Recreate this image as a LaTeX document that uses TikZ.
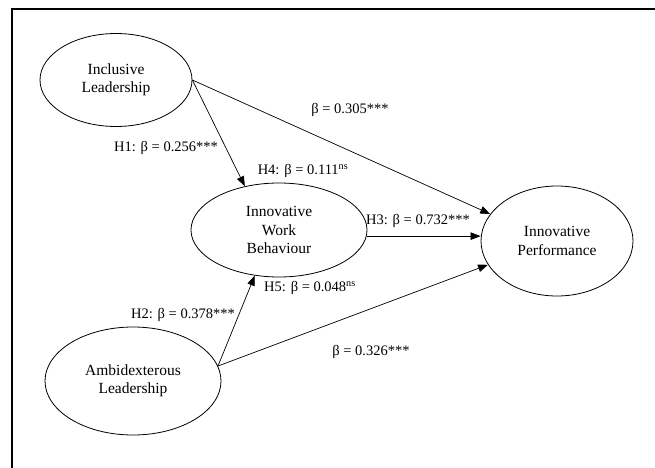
\documentclass[tikz,border=0pt]{standalone}
\usepackage{fontspec}
\setmainfont{Liberation Serif}
\usetikzlibrary{shapes.geometric,arrows.meta}
\begin{document}
\begin{tikzpicture}[x=1pt,y=1pt,
  latent/.style={ellipse,draw,line width=0.8pt,inner sep=0pt,align=center,font=\fontsize{15.5}{18.5}\selectfont},
  pathline/.style={line width=0.7pt,-{Triangle[length=10pt,width=7.5pt]}},
  coef/.style={font=\fontsize{14.5}{17}\selectfont,inner sep=0pt}]
\useasboundingbox (0,0) rectangle (655,467);
\draw[line width=2.2pt] (12,-20) -- (12,458) -- (680,458);

\node[latent,minimum width=152pt,minimum height=93pt] (IL) at (116,387) {Inclusive\\Leadership};
\node[latent,minimum width=176pt,minimum height=94pt] (IWB) at (279,237) {Innovative\\Work\\Behaviour};
\node[latent,minimum width=152pt,minimum height=110pt] (IP) at (557,226) {Innovative\\Performance};
\node[latent,minimum width=176pt,minimum height=108pt] (AL) at (133,86) {Ambidexterous\\Leadership};

\draw[pathline] (IL.east) -- (IWB.128);
\draw[pathline] (IL.east) -- (IP.158);
\draw[pathline] (IWB.-4) -- (IWB.-4 -| IP.west);
\draw[pathline] (AL.10) -- (IWB.242);
\draw[pathline] (AL.10) -- (IP.199);

\node[coef] (l305) at (350,357) {β = 0.305***};
\node[coef] (lH1) at (166,319) {H1: β = 0.256***};
\node[coef] (lH4) at (303,296) {H4: β = 0.111\textsuperscript{ns}};
\node[coef] (lH3) at (418,246) {H3: β = 0.732***};
\node[coef] (lH5) at (310,179) {H5: β = 0.048\textsuperscript{ns}};
\node[coef] (lH2) at (183,152) {H2: β = 0.378***};
\node[coef] (l326) at (371,115) {β = 0.326***};
\end{tikzpicture}
\end{document}
